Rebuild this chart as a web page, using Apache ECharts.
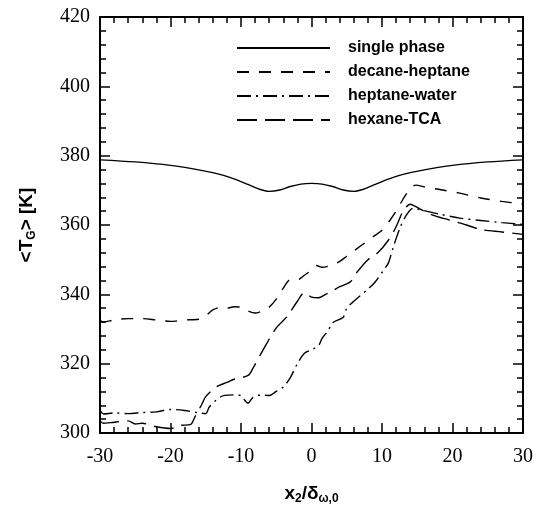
<!DOCTYPE html>
<html>
<head>
<meta charset="utf-8">
<script src="https://cdn.jsdelivr.net/npm/echarts@6/dist/echarts.min.js"></script>
<style>
  html, body { margin: 0; padding: 0; background: #fff; }
  #chart { width: 539px; height: 514px; }
</style>
</head>
<body>
<div id="chart"></div>
<script>
// series names
const seriesNames = ['single phase', 'decane-heptane', 'heptane-water', 'hexane-TCA']

// single phase
const singleX = [-30, -25, -20, -16, -13, -11, -9, -7.5, -6, -4.5, -3, -1.5, 0, 1.5, 3, 4.5, 6, 7.5, 9, 11, 13, 16, 20, 25, 30]
const singleY = [378.8, 378.2, 377.2, 375.9, 374.6, 373.3, 371.7, 370.4, 369.7, 370.1, 371.1, 371.8, 372, 371.8, 371.1, 370.1, 369.7, 370.4, 371.7, 373.3, 374.6, 375.9, 377.2, 378.2, 378.8]

// decane-heptane
const decaneX = [-30, -29.5, -28, -26, -24, -22, -20, -18, -16, -15, -14, -13, -12, -11, -10, -9, -8, -7, -6, -5, -4, -3, -2, -1, 0, 0.7, 1.5, 3, 4, 5, 6, 7, 8, 9, 10, 11, 12, 13, 14, 14.8, 16, 18, 21, 24, 27, 30]
const decaneY = [332.5, 332.0, 332.6, 333.0, 333.0, 332.6, 332.2, 332.6, 332.8, 333.8, 335.5, 336.2, 336.0, 336.4, 336.3, 335.2, 334.6, 335.2, 336.3, 338.6, 341.8, 344.2, 344.2, 345.5, 347, 348.3, 347.8, 348.5, 349.5, 351, 352.5, 354, 355.5, 357, 358.5, 361, 364, 367.5, 370.5, 371.5, 371, 370.3, 369.2, 367.8, 366.8, 366]

// heptane-water
const heptaneX = [-30, -29.5, -28, -26, -24, -22, -20, -18, -16, -15, -14.5, -13.5, -12.5, -11, -10, -9.5, -9, -8.3, -7, -6, -5, -4, -3, -2, -1, 0, 1, 1.5, 2.4, 3, 4.5, 5, 6, 8, 9, 10.4, 10.9, 11.6, 12.6, 13.5, 14.4, 15, 18, 21, 24, 27, 30]
const heptaneY = [306.5, 305.5, 305.8, 305.6, 305.9, 306.1, 306.8, 306.5, 305.8, 305.6, 307.5, 309.5, 310.8, 311, 310.8, 309.5, 308.6, 310.3, 311, 310.8, 312, 313.3, 316, 320, 323, 324, 325.2, 327.3, 329.7, 331.8, 333.4, 336, 338, 341.5, 343.5, 347.5, 349, 353.6, 359.4, 363, 364.8, 364.6, 363.2, 362, 361.3, 360.7, 360.2]

// hexane-TCA
const hexaneX = [-30, -29.5, -28.5, -26, -25, -24, -22, -20, -18.6, -17.2, -16.5, -15.5, -15, -13.5, -12, -11, -9, -8.3, -7, -5, -3.5, -2, -1, 0, 1, 2, 3, 4, 5.5, 6.5, 8, 9.4, 10.9, 12, 13, 14, 14.5, 17, 19.6, 22, 24, 27, 30]
const hexaneY = [303.5, 302.8, 303, 303.5, 302.6, 302.8, 301.8, 301.3, 302.2, 302.4, 304.8, 308.5, 310.5, 313.3, 314.6, 315.5, 316.6, 318.7, 323.5, 330.3, 333.5, 338, 340.5, 339.2, 339, 340, 341, 342.2, 343.6, 346.5, 350, 352, 355.6, 359.5, 364, 366, 365.6, 363, 361.4, 360, 358.7, 358, 357.3]

const pairs = (xs, ys) => xs.map((x, i) => [x, ys[i]])

const chart = echarts.init(document.getElementById('chart'))

const tickFont = { fontFamily: 'Liberation Serif', fontSize: 20, color: '#000' }
const axisLine = { show: true, onZero: false, lineStyle: { color: '#000', width: 2 } }
const majorTick = { inside: true, length: 10, lineStyle: { color: '#000', width: 1.5 } }
const minorTick = { show: true, splitNumber: 5, length: 6, lineStyle: { color: '#000', width: 1.5 } }
const subRich = {
  b: { fontFamily: 'Liberation Sans', fontWeight: 'bold', fontSize: 19, color: '#000' },
  s: { fontFamily: 'Liberation Sans', fontWeight: 'bold', fontSize: 12, color: '#000', padding: [10, 0, 0, 0] }
}

const option = {
  animation: false,
  grid: { left: 100, right: 16, top: 17, bottom: 81 },
  legend: {
    orient: 'vertical',
    left: 231,
    top: 35,
    itemWidth: 93,
    itemHeight: 14,
    itemGap: 8,
    data: seriesNames,
    itemStyle: { opacity: 0 },
    textStyle: {
      fontFamily: 'Liberation Sans',
      fontWeight: 'bold',
      fontSize: 16,
      color: '#000',
      padding: [0, 0, 0, 13]
    }
  },
  xAxis: [
    {
      type: 'value',
      min: -30,
      max: 30,
      interval: 10,
      name: '{b|x}{s|2}{b|/δ}{s|ω,0}',
      nameLocation: 'middle',
      nameGap: 50,
      nameTextStyle: { rich: subRich },
      axisLine: axisLine,
      axisTick: majorTick,
      minorTick: minorTick,
      axisLabel: Object.assign({ margin: 14 }, tickFont),
      splitLine: { show: false }
    },
    {
      type: 'value',
      position: 'top',
      min: -30,
      max: 30,
      interval: 10,
      axisLine: axisLine,
      axisTick: majorTick,
      minorTick: minorTick,
      axisLabel: { show: false },
      splitLine: { show: false }
    }
  ],
  yAxis: [
    {
      type: 'value',
      min: 300,
      max: 420,
      interval: 20,
      name: '{b|<T}{s|G}{b|> [K]}',
      nameLocation: 'middle',
      nameRotate: 90,
      nameGap: 62,
      nameTextStyle: { rich: subRich },
      axisLine: axisLine,
      axisTick: majorTick,
      minorTick: minorTick,
      axisLabel: Object.assign({ margin: 10 }, tickFont),
      splitLine: { show: false }
    },
    {
      type: 'value',
      position: 'right',
      min: 300,
      max: 420,
      interval: 20,
      axisLine: axisLine,
      axisTick: majorTick,
      minorTick: minorTick,
      axisLabel: { show: false },
      splitLine: { show: false }
    }
  ],
  series: [
    {
      name: seriesNames[0], type: 'line', symbol: 'none', smooth: 0.3,
      data: pairs(singleX, singleY),
      lineStyle: { color: '#000', width: 1.4, type: 'solid' },
      itemStyle: { color: '#000' }
    },
    {
      name: seriesNames[1], type: 'line', symbol: 'none', smooth: 0.3,
      data: pairs(decaneX, decaneY),
      lineStyle: { color: '#000', width: 1.4, type: [12, 10] },
      itemStyle: { color: '#000' }
    },
    {
      name: seriesNames[2], type: 'line', symbol: 'none', smooth: 0.3,
      data: pairs(heptaneX, heptaneY),
      lineStyle: { color: '#000', width: 1.4, type: [14, 5, 2, 5] },
      itemStyle: { color: '#000' }
    },
    {
      name: seriesNames[3], type: 'line', symbol: 'none', smooth: 0.3,
      data: pairs(hexaneX, hexaneY),
      lineStyle: { color: '#000', width: 1.4, type: [20, 8] },
      itemStyle: { color: '#000' }
    }
  ]
}

chart.setOption(option)
</script>
</body>
</html>
